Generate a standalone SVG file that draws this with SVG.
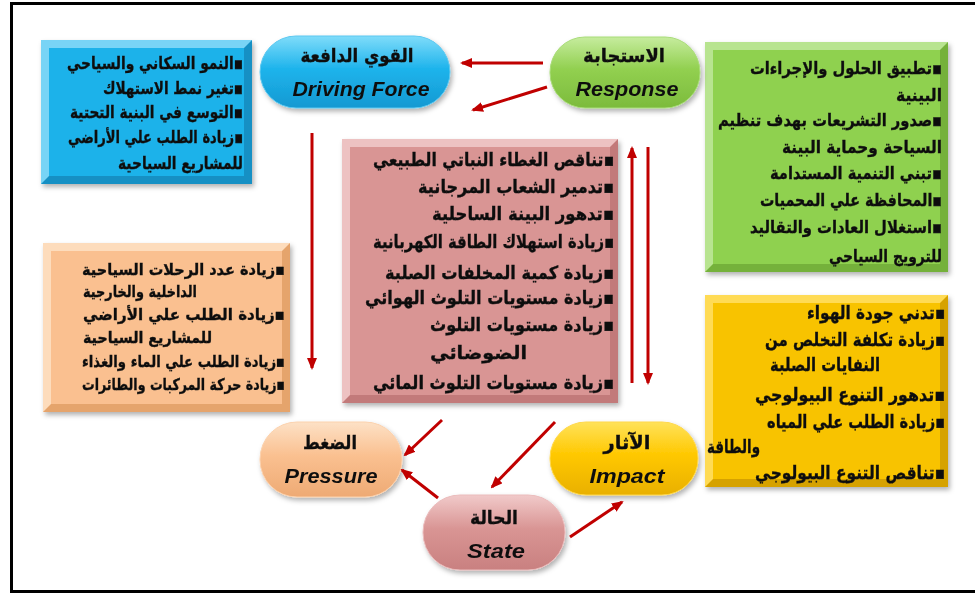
<svg xmlns="http://www.w3.org/2000/svg" width="975" height="594" viewBox="0 0 975 594">
<style>
.ar{font-family:"DejaVu Sans",sans-serif;font-weight:bold;fill:#111;stroke:#111;stroke-width:0.35}
.r{text-anchor:end}
.l{text-anchor:start}
.b{font-size:17px}
.g{font-size:17px}
.p{font-size:18px}
.o{font-size:16px}
.y{font-size:18px}
.h{font-size:19px;text-anchor:middle}
.en{font-family:"Liberation Sans",Arial,sans-serif;font-weight:bold;font-style:italic;font-size:21px;fill:#111;text-anchor:middle}
.arr{stroke:#c00000;stroke-width:3;fill:none;marker-end:url(#ah)}
</style>
<defs>
<marker id="ah" markerUnits="userSpaceOnUse" markerWidth="12" markerHeight="10" refX="10" refY="5" orient="auto">
<path d="M0,0 L12,5 L0,10 Z" fill="#c00000"/>
</marker>
<filter id="sh" x="-10%" y="-10%" width="130%" height="130%">
<feDropShadow dx="2" dy="3" stdDeviation="2.5" flood-color="#000" flood-opacity="0.3"/>
</filter>
<linearGradient id="gBlue" x1="0" y1="0" x2="0" y2="1"><stop offset="0" stop-color="#7fdcfa"/><stop offset="0.45" stop-color="#1fb4ec"/><stop offset="1" stop-color="#1399d2"/></linearGradient>
<linearGradient id="gGreen" x1="0" y1="0" x2="0" y2="1"><stop offset="0" stop-color="#c6ec9e"/><stop offset="0.45" stop-color="#92d050"/><stop offset="1" stop-color="#7cbb3c"/></linearGradient>
<linearGradient id="gPeach" x1="0" y1="0" x2="0" y2="1"><stop offset="0" stop-color="#fde1c6"/><stop offset="0.45" stop-color="#fac090"/><stop offset="1" stop-color="#eeaa74"/></linearGradient>
<linearGradient id="gPink" x1="0" y1="0" x2="0" y2="1"><stop offset="0" stop-color="#f1caca"/><stop offset="0.45" stop-color="#d99594"/><stop offset="1" stop-color="#c98080"/></linearGradient>
<linearGradient id="gYellow" x1="0" y1="0" x2="0" y2="1"><stop offset="0" stop-color="#ffe25a"/><stop offset="0.45" stop-color="#ffc800"/><stop offset="1" stop-color="#e9b000"/></linearGradient>
</defs>
<rect x="0" y="0" width="975" height="594" fill="#fff"/>
<rect x="11.5" y="3.5" width="990" height="588" fill="none" stroke="#000" stroke-width="3"/>

<g id="driving-box" filter="url(#sh)">
<rect x="41" y="40" width="211" height="144" fill="#1790c4"/>
<polygon points="41,40 252,40 244,48 49,48 49,176 41,184" fill="#78d4f6"/>
<rect x="49" y="48" width="195" height="128" fill="#1fb2ea"/>
<text class="ar b r" x="243" y="69" textLength="176" lengthAdjust="spacingAndGlyphs">النمو السكاني والسياحي▪</text>
<text class="ar b r" x="243" y="94" textLength="140" lengthAdjust="spacingAndGlyphs">تغير نمط الاستهلاك▪</text>
<text class="ar b r" x="243" y="118" textLength="173" lengthAdjust="spacingAndGlyphs">التوسع في البنية التحتية▪</text>
<text class="ar b r" x="243" y="143" textLength="175" lengthAdjust="spacingAndGlyphs">زيادة الطلب علي الأراضي▪</text>
<text class="ar b r" x="243" y="169" textLength="125" lengthAdjust="spacingAndGlyphs">للمشاريع السياحية</text>
</g>

<g id="response-box" filter="url(#sh)">
<rect x="705" y="42" width="243" height="230" fill="#74b13a"/>
<polygon points="705,42 948,42 940,50 713,50 713,264 705,272" fill="#b8e490"/>
<rect x="713" y="50" width="227" height="214" fill="#8fd14f"/>
<text class="ar g r" x="942" y="74" textLength="192" lengthAdjust="spacingAndGlyphs">تطبيق الحلول والإجراءات▪</text>
<text class="ar g r" x="942" y="101" textLength="46" lengthAdjust="spacingAndGlyphs">البينية</text>
<text class="ar g r" x="942" y="126" textLength="224" lengthAdjust="spacingAndGlyphs">صدور التشريعات بهدف تنظيم▪</text>
<text class="ar g r" x="942" y="153" textLength="160" lengthAdjust="spacingAndGlyphs">السياحة وحماية البينة</text>
<text class="ar g r" x="942" y="179" textLength="172" lengthAdjust="spacingAndGlyphs">تبني التنمية المستدامة▪</text>
<text class="ar g r" x="942" y="206" textLength="182" lengthAdjust="spacingAndGlyphs">المحافظة علي المحميات▪</text>
<text class="ar g r" x="942" y="233" textLength="192" lengthAdjust="spacingAndGlyphs">استغلال العادات والتقاليد▪</text>
<text class="ar g r" x="942" y="262" textLength="113" lengthAdjust="spacingAndGlyphs">للترويج السياحي</text>
</g>

<g id="state-box" filter="url(#sh)">
<rect x="342" y="139" width="276" height="264" fill="#c27a7a"/>
<polygon points="342,139 618,139 610,147 350,147 350,395 342,403" fill="#edc2c2"/>
<rect x="350" y="147" width="260" height="248" fill="#d99594"/>
<text class="ar p r" x="614" y="166" textLength="241" lengthAdjust="spacingAndGlyphs">تناقص الغطاء النباتي الطبيعي▪</text>
<text class="ar p r" x="614" y="193" textLength="196" lengthAdjust="spacingAndGlyphs">تدمير الشعاب المرجانية▪</text>
<text class="ar p r" x="614" y="220" textLength="182" lengthAdjust="spacingAndGlyphs">تدهور البينة الساحلية▪</text>
<text class="ar p r" x="614" y="248" textLength="241" lengthAdjust="spacingAndGlyphs">زيادة استهلاك الطاقة الكهربانية▪</text>
<text class="ar p r" x="614" y="279" textLength="229" lengthAdjust="spacingAndGlyphs">زيادة كمية المخلفات الصلبة▪</text>
<text class="ar p r" x="614" y="304" textLength="249" lengthAdjust="spacingAndGlyphs">زيادة مستويات التلوث الهوائي▪</text>
<text class="ar p r" x="614" y="331" textLength="184" lengthAdjust="spacingAndGlyphs">زيادة مستويات التلوث▪</text>
<text class="ar p l" x="430" y="359" textLength="97" lengthAdjust="spacingAndGlyphs">الضوضائي</text>
<text class="ar p r" x="614" y="389" textLength="241" lengthAdjust="spacingAndGlyphs">زيادة مستويات التلوث المائي▪</text>
</g>

<g id="pressure-box" filter="url(#sh)">
<rect x="43" y="243" width="247" height="169" fill="#e5a46c"/>
<polygon points="43,243 290,243 282,251 51,251 51,404 43,412" fill="#fddcbc"/>
<rect x="51" y="251" width="231" height="153" fill="#fac090"/>
<text class="ar o r" x="285" y="275" textLength="203" lengthAdjust="spacingAndGlyphs">زيادة عدد الرحلات السياحية▪</text>
<text class="ar o l" x="83" y="297" textLength="114" lengthAdjust="spacingAndGlyphs">الداخلية والخارجية</text>
<text class="ar o r" x="285" y="320" textLength="202" lengthAdjust="spacingAndGlyphs">زيادة الطلب علي الأراضي▪</text>
<text class="ar o l" x="83" y="343" textLength="129" lengthAdjust="spacingAndGlyphs">للمشاريع السياحية</text>
<text class="ar o r" x="285" y="367" textLength="203" lengthAdjust="spacingAndGlyphs">زيادة الطلب علي الماء والغذاء▪</text>
<text class="ar o r" x="285" y="390" textLength="203" lengthAdjust="spacingAndGlyphs">زيادة حركة المركبات والطائرات▪</text>
</g>

<g id="impact-box" filter="url(#sh)">
<rect x="705" y="295" width="243" height="192" fill="#d6a200"/>
<polygon points="705,295 948,295 940,303 713,303 713,479 705,487" fill="#ffdb55"/>
<rect x="713" y="303" width="227" height="176" fill="#f8c300"/>
<text class="ar y r" x="945" y="319" textLength="138" lengthAdjust="spacingAndGlyphs">تدني جودة الهواء▪</text>
<text class="ar y r" x="945" y="346" textLength="180" lengthAdjust="spacingAndGlyphs">زيادة تكلفة التخلص من▪</text>
<text class="ar y l" x="770" y="371" textLength="110" lengthAdjust="spacingAndGlyphs">النفايات الصلبة</text>
<text class="ar y r" x="945" y="401" textLength="190" lengthAdjust="spacingAndGlyphs">تدهور التنوع البيولوجي▪</text>
<text class="ar y r" x="945" y="428" textLength="178" lengthAdjust="spacingAndGlyphs">زيادة الطلب علي المياه▪</text>
<text class="ar y l" x="707" y="453" textLength="53" lengthAdjust="spacingAndGlyphs">والطاقة</text>
<text class="ar y r" x="945" y="479" textLength="190" lengthAdjust="spacingAndGlyphs">تناقص التنوع البيولوجي▪</text>
</g>

<g id="driving-force" filter="url(#sh)">
<rect x="260" y="36" width="190" height="72" rx="36" fill="url(#gBlue)" stroke="#5cc8f0" stroke-width="1"/>
<text class="ar h" x="357" y="62" textLength="113" lengthAdjust="spacingAndGlyphs">القوي الدافعة</text>
<text class="en" x="361" y="96" textLength="137" lengthAdjust="spacingAndGlyphs">Driving Force</text>
</g>

<g id="response" filter="url(#sh)">
<rect x="550" y="37" width="150" height="71" rx="35" fill="url(#gGreen)" stroke="#a8dc78" stroke-width="1"/>
<text class="ar h" x="624" y="62" textLength="82" lengthAdjust="spacingAndGlyphs">الاستجابة</text>
<text class="en" x="627" y="96" textLength="103" lengthAdjust="spacingAndGlyphs">Response</text>
</g>

<g id="pressure" filter="url(#sh)">
<rect x="260" y="422" width="142" height="75" rx="37" fill="url(#gPeach)" stroke="#fcd2ae" stroke-width="1"/>
<text class="ar h" x="330" y="449" textLength="54" lengthAdjust="spacingAndGlyphs">الضغط</text>
<text class="en" x="331" y="483" textLength="93" lengthAdjust="spacingAndGlyphs">Pressure</text>
</g>

<g id="impact" filter="url(#sh)">
<rect x="550" y="422" width="148" height="73" rx="36" fill="url(#gYellow)" stroke="#ffd84a" stroke-width="1"/>
<text class="ar h" x="627" y="449" textLength="47" lengthAdjust="spacingAndGlyphs">الآثار</text>
<text class="en" x="627" y="483" textLength="75" lengthAdjust="spacingAndGlyphs">Impact</text>
</g>

<g id="state" filter="url(#sh)">
<rect x="423" y="495" width="142" height="75" rx="37" fill="url(#gPink)" stroke="#ebbcbc" stroke-width="1"/>
<text class="ar h" x="494" y="524" textLength="48" lengthAdjust="spacingAndGlyphs">الحالة</text>
<text class="en" x="496" y="558" textLength="58" lengthAdjust="spacingAndGlyphs">State</text>
</g>

<g id="connectors">
<line class="arr" x1="543" y1="63" x2="462" y2="63"/>
<line class="arr" x1="547" y1="87" x2="473" y2="110"/>
<line class="arr" x1="312" y1="133" x2="312" y2="368"/>
<line class="arr" x1="632" y1="383" x2="632" y2="148"/>
<line class="arr" x1="648" y1="147" x2="648" y2="383"/>
<line class="arr" x1="442" y1="420" x2="405" y2="455"/>
<line class="arr" x1="555" y1="422" x2="492" y2="487"/>
<line class="arr" x1="438" y1="498" x2="402" y2="470"/>
<line class="arr" x1="570" y1="537" x2="622" y2="502"/>
</g>
</svg>
